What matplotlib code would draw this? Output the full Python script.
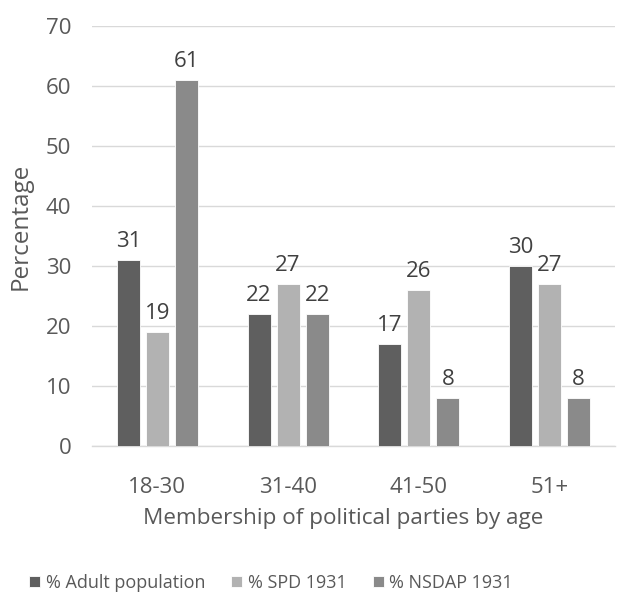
import matplotlib
matplotlib.use("Agg")
import matplotlib.pyplot as plt
import numpy as np

# data
age_groups = ['18-30', '31-40', '41-50', '51+']
adult_population = [31, 22, 17, 30]
spd_1931 = [19, 27, 26, 27]
nsdap_1931 = [61, 22, 8, 8]

series_names = ['% Adult population', '% SPD 1931', '% NSDAP 1931']
series_colors = ['#5f5f5f', '#b2b2b2', '#8a8a8a']

text_color = '#595959'
plt.rcParams['font.family'] = ['Open Sans', 'DejaVu Sans']

fig = plt.figure(figsize=(6.22, 6.05), dpi=100)
ax = fig.add_axes([92 / 622, 1 - 446 / 605, 523 / 622, 420 / 605])

x = np.arange(len(age_groups))
bar_w = 0.176
step = 0.222
for i, (vals, name, col) in enumerate(zip([adult_population, spd_1931, nsdap_1931],
                                          series_names, series_colors)):
    bars = ax.bar(x + (i - 1) * step, vals, width=bar_w, color=col,
                  edgecolor='white', linewidth=0.6, label=name, zorder=3)
    ax.bar_label(bars, padding=6, fontsize=16, color='#404040')

ax.set_xlim(-0.5, len(age_groups) - 0.5)
ax.set_ylim(0, 70)
ax.set_yticks(range(0, 71, 10))
ax.set_xticks(x)
ax.set_xticklabels(age_groups)
ax.tick_params(axis='both', length=0, labelsize=16, colors=text_color)
ax.tick_params(axis='x', pad=22)
ax.tick_params(axis='y', pad=15)
ax.grid(axis='y', color='#d9d9d9', linewidth=1, zorder=0)
for s in ['top', 'right', 'left']:
    ax.spines[s].set_visible(False)
ax.spines['bottom'].set_color('#d9d9d9')
ax.spines['bottom'].set_linewidth(1)

# label positions in pixels relative to the plot area
ax.set_xlabel('Membership of political parties by age', fontsize=16.2,
              color=text_color)
ax.xaxis.set_label_coords((343 - 92) / 523, -62 / 420)
ax.set_ylabel('Percentage', fontsize=17.5, color=text_color)
ax.yaxis.set_label_coords(-59 / 523, (446 - 226) / 420)

leg = fig.legend(loc='center left', bbox_to_anchor=(29 / 622, 1 - 583 / 605), ncol=3,
                 frameon=False, fontsize=13, handlelength=0.62, handleheight=0.62,
                 handletextpad=0.3, columnspacing=1.45, borderpad=0, borderaxespad=0)
for t in leg.get_texts():
    t.set_color(text_color)

fig.savefig('out.png', dpi=100, facecolor='white')
